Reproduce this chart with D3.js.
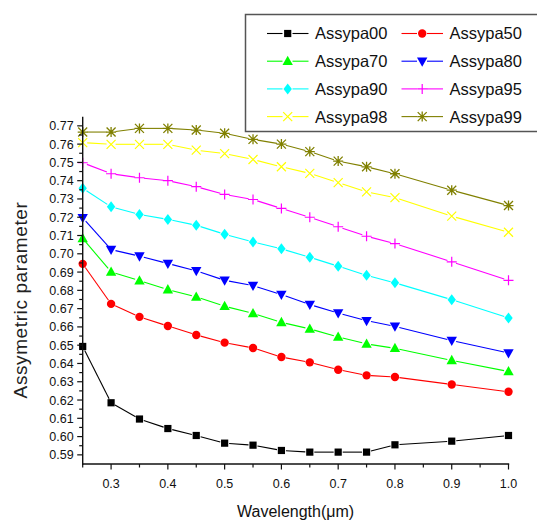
<!DOCTYPE html>
<html>
<head>
<meta charset="utf-8">
<script src="https://cdn.jsdelivr.net/npm/d3@7"></script>
<style>
body { margin: 0; background: #fff; }
svg { display: block; font-family: "Liberation Sans", Arial, sans-serif; }
</style>
</head>
<body>
<svg id="main" width="537" height="522"></svg>
<script>
var wavelength = [0.25, 0.3, 0.35, 0.4, 0.45, 0.5, 0.55, 0.6, 0.65, 0.7, 0.75, 0.8, 0.9, 1.0];

var names = ["Assypa00", "Assypa50", "Assypa70", "Assypa80", "Assypa90", "Assypa95", "Assypa98", "Assypa99"];

var assypa00 = [0.6493, 0.6185, 0.6096, 0.6044, 0.6006, 0.5964, 0.5953, 0.5924, 0.5915, 0.5915, 0.5915, 0.5955, 0.5975, 0.6006];
var assypa50 = [0.6945, 0.6726, 0.6655, 0.6605, 0.6556, 0.6514, 0.6485, 0.6435, 0.6406, 0.6366, 0.6335, 0.6326, 0.6285, 0.6245];
var assypa70 = [0.7084, 0.6901, 0.6853, 0.6804, 0.6764, 0.6713, 0.6674, 0.6625, 0.6589, 0.6545, 0.6507, 0.6483, 0.6417, 0.6356];
var assypa80 = [0.7197, 0.7023, 0.6987, 0.6947, 0.6907, 0.6855, 0.6826, 0.6777, 0.6722, 0.6676, 0.6634, 0.6603, 0.6525, 0.6457];
var assypa90 = [0.7358, 0.7257, 0.7215, 0.7188, 0.7156, 0.7107, 0.7065, 0.7027, 0.6981, 0.6932, 0.6882, 0.6841, 0.6749, 0.6649];
var assypa95 = [0.7498, 0.7438, 0.7416, 0.7400, 0.7367, 0.7325, 0.7297, 0.7248, 0.7200, 0.7148, 0.7096, 0.7056, 0.6956, 0.6855];
var assypa98 = [0.7608, 0.7599, 0.7599, 0.7599, 0.7567, 0.7548, 0.7516, 0.7476, 0.7440, 0.7389, 0.7339, 0.7307, 0.7206, 0.7118];
var assypa99 = [0.7666, 0.7666, 0.7686, 0.7686, 0.7677, 0.7659, 0.7626, 0.7600, 0.7559, 0.7507, 0.7476, 0.7438, 0.7348, 0.7264];

var xTicks = [0.3, 0.4, 0.5, 0.6, 0.7, 0.8, 0.9, 1.0];
var yTicks = d3.range(59, 78).map(function(d){ return d / 100; });

var colors = ["#000000", "#ff0000", "#00ff00", "#0000ff", "#00ffff", "#ff00ff", "#ffff00", "#808000"];
var symbols = ["square", "circle", "triangle", "triangleDown", "diamond", "plus", "cross", "star"];

var allSeries = [assypa00, assypa50, assypa70, assypa80, assypa90, assypa95, assypa98, assypa99];

var svg = d3.select("#main");

var x = d3.scaleLinear().domain([0.25, 1.0]).range([82.7, 508.5]);
var y = d3.scaleLinear().domain([0.585, 0.775]).range([464, 116.7]);

// draw one marker shape centred at 0,0
var drawMarker = function(g, kind, color) {
	if (kind == "square") {
		g.append("rect").attr("x", -3.6).attr("y", -3.6).attr("width", 7.2).attr("height", 7.2).attr("fill", color);
	} else if (kind == "circle") {
		g.append("circle").attr("r", 4.2).attr("fill", color);
	} else if (kind == "triangle") {
		g.append("path").attr("d", "M0,-5.5L5.2,3.8L-5.2,3.8Z").attr("fill", color);
	} else if (kind == "triangleDown") {
		g.append("path").attr("d", "M0,5.5L5.2,-3.8L-5.2,-3.8Z").attr("fill", color);
	} else if (kind == "diamond") {
		g.append("path").attr("d", "M0,-5.5L4.2,0L0,5.5L-4.2,0Z").attr("fill", color);
	} else if (kind == "plus") {
		g.append("path").attr("d", "M-5,0H5M0,-5V5").attr("stroke", color).attr("stroke-width", 1.2);
	} else if (kind == "cross") {
		g.append("path").attr("d", "M-4.5,-4.5L4.5,4.5M-4.5,4.5L4.5,-4.5").attr("stroke", color).attr("stroke-width", 1.2);
	} else if (kind == "star") {
		g.append("path").attr("d", "M-4.5,-4.5L4.5,4.5M-4.5,4.5L4.5,-4.5M0,-5V5M-5,0H5").attr("stroke", color).attr("stroke-width", 1.3);
	}
};

// lines with small gaps around the symbols
var gap = 4.5;
allSeries.forEach(function(vals, si){
	var g = svg.append("g");
	for (var i = 0; i < vals.length - 1; i++) {
		var x1 = x(wavelength[i]), y1 = y(vals[i]);
		var x2 = x(wavelength[i+1]), y2 = y(vals[i+1]);
		var len = Math.sqrt((x2-x1)*(x2-x1) + (y2-y1)*(y2-y1));
		var ux = (x2-x1)/len, uy = (y2-y1)/len;
		g.append("line")
			.attr("x1", x1 + ux*gap).attr("y1", y1 + uy*gap)
			.attr("x2", x2 - ux*gap).attr("y2", y2 - uy*gap)
			.attr("stroke", colors[si]).attr("stroke-width", 1.1);
	}
	vals.forEach(function(v, i){
		var m = g.append("g").attr("transform", "translate(" + x(wavelength[i]) + "," + y(v) + ")");
		drawMarker(m, symbols[si], colors[si]);
	});
});

// axes
var xAxis = svg.append("g").attr("transform", "translate(0,464)");
xAxis.append("line").attr("x1", x(0.25) - 0.7).attr("x2", x(1.0) + 0.7).attr("stroke", "#111").attr("stroke-width", 1.4);
d3.range(25, 101, 5).forEach(function(t){
	var v = t / 100;
	var major = (t % 10 == 0);
	xAxis.append("line").attr("x1", x(v)).attr("x2", x(v)).attr("y1", 0).attr("y2", major ? 5.5 : 3.5)
		.attr("stroke", "#111").attr("stroke-width", 1.2);
});
xTicks.forEach(function(v){
	xAxis.append("text").attr("x", x(v)).attr("y", 24).attr("text-anchor", "middle")
		.attr("font-size", "12.5px").attr("fill", "#111").text(v.toFixed(1));
});

var yAxis = svg.append("g").attr("transform", "translate(82.7,0)");
yAxis.append("line").attr("y1", y(0.585) + 0.7).attr("y2", y(0.775)).attr("stroke", "#111").attr("stroke-width", 1.4);
d3.range(118, 155).forEach(function(t){
	var v = t / 200;
	var major = (t % 2 == 0);
	yAxis.append("line").attr("x1", 0).attr("x2", major ? -5.5 : -3.5).attr("y1", y(v)).attr("y2", y(v))
		.attr("stroke", "#111").attr("stroke-width", 1.2);
});
yTicks.forEach(function(v){
	yAxis.append("text").attr("x", -9).attr("y", y(v)).attr("dy", "0.36em").attr("text-anchor", "end")
		.attr("font-size", "12.5px").attr("fill", "#111").text(v.toFixed(2));
});

svg.append("text").attr("x", 295.6).attr("y", 517).attr("text-anchor", "middle")
	.attr("font-size", "16px").attr("fill", "#111").text("Wavelength(\u03bcm)");

svg.append("text").attr("transform", "translate(27,300) rotate(-90)").attr("text-anchor", "middle")
	.attr("font-size", "19px").attr("letter-spacing", "0.6px").attr("fill", "#222").text("Assymetric parameter");

// legend
var legend = svg.append("g");
legend.append("rect").attr("x", 245.5).attr("y", 14.5).attr("width", 300).attr("height", 117)
	.attr("fill", "#fff").attr("stroke", "#555").attr("stroke-width", 1.5);
names.forEach(function(n, i){
	var col = i % 2, row = Math.floor(i / 2);
	var lx = col == 0 ? 267 : 401.5;
	var ly = 33.5 + row * 27.7;
	var item = legend.append("g").attr("transform", "translate(" + lx + "," + ly + ")");
	item.append("line").attr("x1", 0).attr("x2", 15.5).attr("stroke", colors[i]).attr("stroke-width", 1.1);
	item.append("line").attr("x1", 25.5).attr("x2", 41.5).attr("stroke", colors[i]).attr("stroke-width", 1.1);
	var m = item.append("g").attr("transform", "translate(20.7,0)");
	drawMarker(m, symbols[i], colors[i]);
	item.append("text").attr("x", 48).attr("y", 0).attr("dy", "0.36em")
		.attr("font-size", "16.5px").attr("fill", "#111").text(n);
});
</script>
</body>
</html>
